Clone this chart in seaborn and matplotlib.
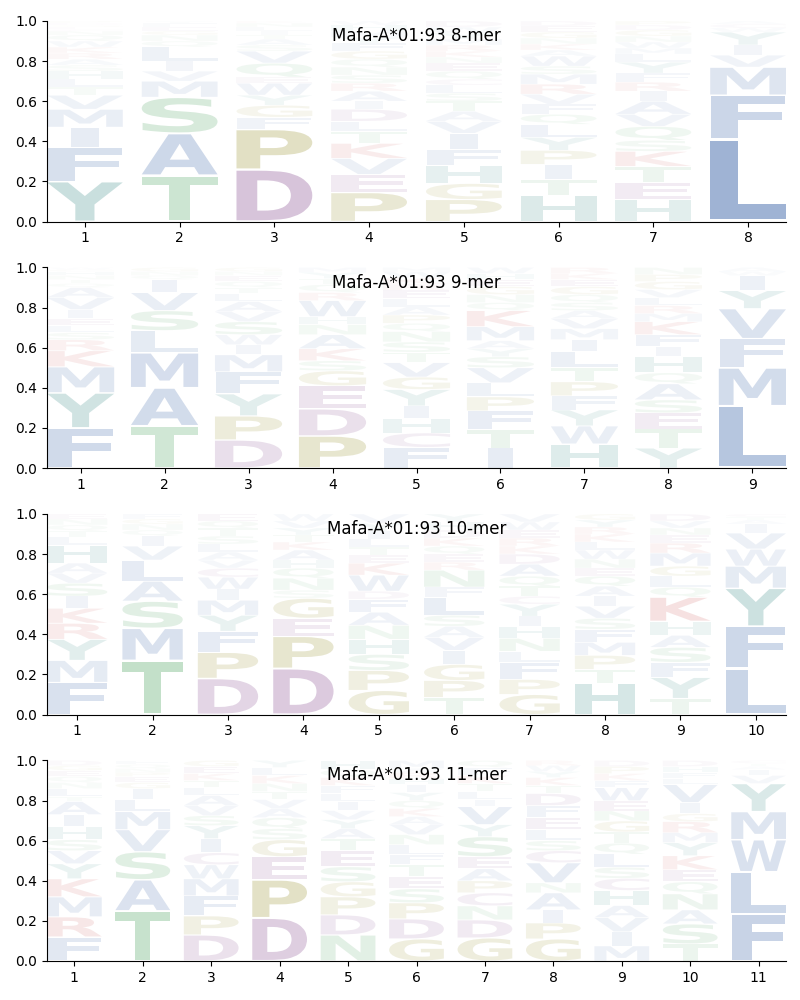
import matplotlib
matplotlib.use("Agg")
import matplotlib.pyplot as plt
import seaborn as sns
from matplotlib.textpath import TextPath
from matplotlib.patches import PathPatch
from matplotlib.font_manager import FontProperties
from matplotlib.transforms import Affine2D

# ---------------- data (bottom -> top per position) ----------------
ALLELE = "Mafa-A*01:93"

LET8 = ["YFIMVTLHSARKWQNCEGDP", "TASMVILQNGEFY", "DPFGYWEQVSATILNK",
        "PEVKTLDIARSNQGFYMHW", "PGHFIVATSLCQENKRMYWD", "HTIPYLQFVRMSWAKNGED",
        "HETKSQVAIRFYLMWNGDP", "LFMVIYWCA"]
FRQ8 = [[.20, .17, .10, .09, .07, .04, .04, .04, .03, .03, .03, .03, .03, .03, .02, .01, .01, .01, .01, .01],
        [.23, .21, .18, .08, .05, .05, .07, .03, .03, .02, .02, .02, .01],
        [.26, .20, .06, .06, .05, .06, .03, .07, .06, .03, .03, .02, .02, .02, .02, .01],
        [.145, .09, .08, .075, .06, .05, .06, .04, .05, .04, .04, .04, .04, .04, .04, .03, .03, .03, .02],
        [.11, .08, .09, .08, .08, .06, .05, .05, .04, .04, .03, .04, .04, .03, .03, .03, .03, .03, .03, .03],
        [.13, .08, .075, .07, .065, .065, .05, .05, .05, .05, .05, .04, .05, .03, .03, .03, .03, .03, .025],
        [.11, .085, .08, .075, .055, .07, .06, .065, .05, .045, .045, .055, .04, .03, .03, .03, .03, .025, .02],
        [.41, .22, .14, .06, .05, .065, .02, .02, .015]]

LET9 = ["FYMKRSLEIVAQTNHGW", "TAMLSVIQNG", "DPYFMIWSVALTQENG",
        "PDEGSKANHWRQTYM", "FCHIYGVTSNQPALERKWM", "ITFPLVSYAMKQNGEHW",
        "HWYFPTLIMVASQGEKR", "YTESAQHIFKMRLVGPN", "LMFVYIWA"]
FRQ9 = [[.20, .175, .13, .08, .055, .035, .035, .035, .045, .06, .05, .02, .02, .02, .02, .01, .01],
        [.21, .19, .175, .11, .10, .09, .065, .02, .02, .02],
        [.14, .12, .11, .11, .085, .05, .05, .065, .05, .05, .04, .03, .03, .03, .02, .02],
        [.16, .135, .115, .075, .05, .06, .07, .05, .04, .08, .04, .04, .03, .03, .025],
        [.10, .07, .07, .06, .08, .06, .07, .05, .05, .05, .04, .04, .04, .04, .04, .03, .03, .03, .02],
        [.10, .09, .095, .07, .07, .075, .055, .04, .04, .07, .08, .04, .04, .04, .035, .03, .03],
        [.12, .09, .08, .07, .07, .07, .08, .06, .055, .05, .04, .04, .04, .04, .035, .03, .03],
        [.10, .095, .08, .065, .08, .055, .08, .05, .06, .065, .04, .04, .04, .04, .04, .035, .035],
        [.31, .19, .145, .15, .09, .075, .02, .02]]

LET10 = ["FMYRKISVAHLTQNE", "TMSALVIQNGF", "DPFYMIWCVALSTQE", "DPEGSNQHAKTYVW",
         "GPSHNAFDWKETLIYV", "TPGIVASLFNREQKDHY", "GPFLNHIYCTQADKREWV",
         "HTPMFSVIAQENWLKRYG", "TYFSAHKQLGMRENVD", "LFYMWVIATC"]
FRQ10 = [[.16, .11, .105, .08, .075, .06, .065, .05, .05, .09, .04, .03, .03, .03, .025],
         [.27, .16, .135, .10, .105, .07, .05, .03, .03, .025, .025],
         [.18, .13, .105, .08, .075, .055, .06, .045, .04, .04, .04, .04, .04, .035, .035],
         [.23, .16, .09, .10, .04, .06, .05, .04, .05, .04, .035, .035, .035, .035],
         [.12, .10, .08, .075, .07, .065, .065, .04, .08, .06, .04, .04, .04, .04, .04, .045],
         [.085, .085, .08, .07, .065, .055, .055, .09, .05, .085, .04, .04, .04, .04, .04, .04, .04],
         [.10, .075, .085, .055, .065, .06, .05, .06, .04, .05, .05, .06, .05, .04, .04, .04, .04, .04],
         [.155, .07, .07, .065, .065, .055, .06, .05, .05, .05, .04, .045, .045, .04, .04, .035, .035, .03],
         [.08, .105, .075, .075, .06, .07, .12, .05, .055, .05, .065, .05, .04, .035, .035, .035],
         [.23, .21, .19, .11, .085, .08, .045, .02, .015, .015]]

LET11 = ["FRMKYVSHIATLNQEGD", "TASVMLIGEPNQF", "DPFMWCIYSVALTKEG", "DPEGSQAVTNKLY",
         "NDPGSETAYVILFKQH", "GDPSETFLNVAKQYIHRWM", "GDNCPAESYVILTKFQ",
         "GPIANVCSLEFDTKYWR", "MIVAHCSLQTGNEWFKPD", "TSANQEKYMRGIVLFHD", "FLWMYVIATC"]
FRQ11 = [[.12, .10, .10, .09, .075, .065, .055, .065, .06, .065, .025, .04, .03, .03, .03, .025, .025],
         [.25, .155, .14, .11, .09, .06, .055, .03, .03, .02, .02, .02, .02],
         [.13, .095, .10, .085, .07, .06, .07, .065, .05, .05, .05, .04, .035, .035, .035, .03],
         [.215, .19, .115, .085, .055, .055, .045, .045, .04, .04, .04, .04, .035],
         [.13, .10, .09, .075, .075, .08, .06, .05, .045, .045, .045, .04, .04, .04, .04, .045],
         [.11, .10, .08, .07, .06, .06, .05, .05, .05, .05, .04, .04, .04, .04, .04, .03, .03, .02, .04],
         [.115, .09, .07, .065, .06, .06, .06, .10, .06, .09, .035, .04, .04, .04, .04, .035],
         [.11, .08, .065, .085, .05, .10, .06, .05, .055, .06, .06, .06, .04, .04, .03, .03, .025],
         [.075, .07, .07, .06, .075, .06, .055, .065, .055, .055, .055, .05, .05, .065, .035, .035, .035, .03],
         [.085, .10, .07, .08, .06, .06, .07, .065, .05, .055, .04, .055, .09, .03, .03, .03, .03],
         [.235, .21, .16, .14, .14, .04, .03, .015, .015, .015]]

LOGOS = [("8-mer", LET8, FRQ8), ("9-mer", LET9, FRQ9),
         ("10-mer", LET10, FRQ10), ("11-mer", LET11, FRQ11)]

# ---------------- style ----------------
sns.set_style("ticks", {"axes.edgecolor": "black", "xtick.color": "black",
                        "ytick.color": "black", "text.color": "black",
                        "axes.labelcolor": "black"})
plt.rcParams["font.family"] = ["DejaVu Sans"]

BLUE = "#4C72B0"
GREEN = "#55A868"
PURPLE = "#8A5093"
OLIVE = "#8F881C"
RED = "#C84646"
TEAL = "#328782"
COLOR = {}
for c in "AFILMVW":
    COLOR[c] = BLUE
for c in "STNQ":
    COLOR[c] = GREEN
for c in "DEC":
    COLOR[c] = PURPLE
for c in "PG":
    COLOR[c] = OLIVE
for c in "KR":
    COLOR[c] = RED
for c in "YH":
    COLOR[c] = TEAL

FP = FontProperties(family="DejaVu Sans", weight="bold")
_E = TextPath((0, 0), "E", size=1, prop=FP).get_extents()
WIDTH = 0.8
VPAD = 0.05


def draw_letter(ax, ch, x, y0, h, color, alpha):
    path = TextPath((0, 0), ch, size=1, prop=FP)
    ext = path.get_extents()
    sx = min(WIDTH / ext.width, WIDTH / _E.width)
    hh = h * (1 - VPAD)
    sy = hh / ext.height
    w = ext.width * sx
    tr = (Affine2D().translate(-ext.x0, -ext.y0).scale(sx, sy)
          .translate(x - w / 2, y0 + h * VPAD / 2))
    ax.add_patch(PathPatch(tr.transform_path(path), facecolor=color,
                           edgecolor="none", alpha=alpha, lw=0))


fig, axes = plt.subplots(4, 1, figsize=(8, 10), dpi=100)
fig.subplots_adjust(left=47 / 800, right=786 / 800, top=1 - 21 / 1000,
                    bottom=1 - 961 / 1000, hspace=0.229)

for ax, (name, lets, frqs) in zip(axes, LOGOS):
    n = len(lets)
    for i, (s, f) in enumerate(zip(lets, frqs)):
        tot = sum(f)
        y = 0.0
        for ch, v in zip(s, f):
            h = v / tot
            draw_letter(ax, ch, i + 1, y, h, COLOR[ch], min(1.0, 1.3 * h))
            y += h
    ax.set_xlim(0.6, n + 0.4)
    ax.set_ylim(0, 1)
    ax.set_xticks(range(1, n + 1))
    ax.set_yticks([0, 0.2, 0.4, 0.6, 0.8, 1.0])
    ax.text(0.5, 0.925, f"{ALLELE} {name}", transform=ax.transAxes,
            ha="center", va="center", fontsize=12)
    sns.despine(ax=ax)

fig.savefig("out.png", dpi=100)
